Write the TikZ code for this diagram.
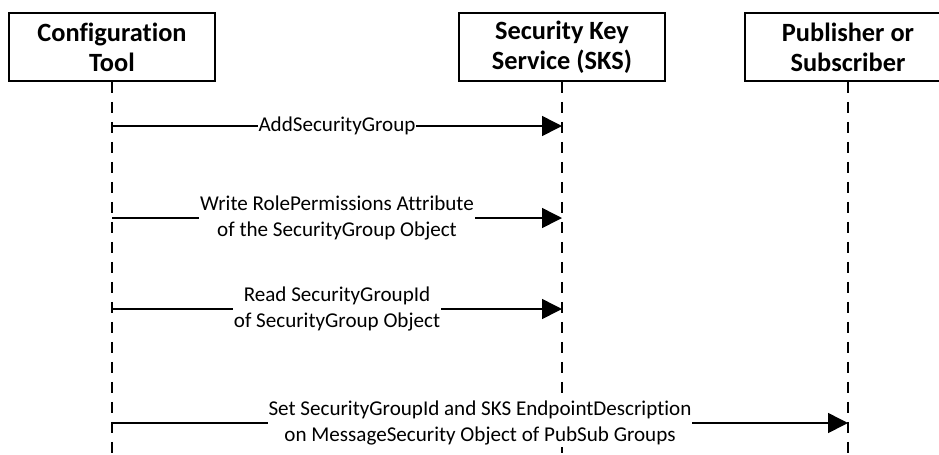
\documentclass[tikz,border=0pt]{standalone}
\usepackage{fontspec}
\setmainfont{Carlito}[Ligatures=NoCommon]
\usetikzlibrary{arrows.meta}

\begin{document}
\begin{tikzpicture}[
		blocos/.style={
			draw,
			rectangle,
			minimum width=4.12cm,
			minimum height=1.36cm,
			align=center,
			line width=1.1pt,
			font=\fontsize{15}{17}\selectfont\bfseries
		},
		vida/.style={
			line width=0.6pt,
			dash pattern=on 0.22cm off 0.18cm
		},
		msg/.style={
			-{Triangle[length=0.4cm, width=0.4cm]},
			line width=0.9pt
		},
		rotulo/.style={
			fill=white,
			align=center,
			inner xsep=0.5pt,
			inner ysep=1pt,
			font=\fontsize{12}{14.7}\selectfont
		}
		]
		
		\useasboundingbox (0,0) rectangle (18.78,-9.08);
		\clip (0,0) rectangle (18.78,-9.08);
		
		\node[blocos] (cfg) at (2.24,-0.94) {Configuration\\Tool};
		\node[blocos] (sks) at (11.24,-0.94) {Security Key\\Service (SKS)};
		\node[blocos] (pub) at (16.96,-0.94) {Publisher or\\Subscriber};
		
		%Linhas de vida
		\coordinate (cfgfim) at (2.24,-9.08);
		\coordinate (sksfim) at (11.24,-9.08);
		\coordinate (pubfim) at (16.96,-9.08);
		
		\draw[vida] (cfg.south) -- (cfgfim);
		\draw[vida] (sks.south) -- (sksfim);
		\draw[vida] (pub.south) -- (pubfim);
		
		%Mensagens
		\coordinate (m1a) at (2.24,-2.52);
		\coordinate (m1b) at (11.24,-2.52);
		\coordinate (m2a) at (2.24,-4.36);
		\coordinate (m2b) at (11.24,-4.36);
		\coordinate (m3a) at (2.24,-6.18);
		\coordinate (m3b) at (11.24,-6.18);
		\coordinate (m4a) at (2.24,-8.46);
		\coordinate (m4b) at (16.96,-8.46);
		
		\draw[msg] (m1a) -- node[rotulo] {AddSecurityGroup} (m1b);
		\draw[msg] (m2a) -- node[rotulo] {Write RolePermissions Attribute\\of the SecurityGroup Object} (m2b);
		\draw[msg] (m3a) -- node[rotulo] {Read SecurityGroupId\\of SecurityGroup Object} (m3b);
		\draw[msg] (m4a) -- node[rotulo] {Set SecurityGroupId and SKS EndpointDescription\\on MessageSecurity Object of PubSub Groups} (m4b);
		
	\end{tikzpicture}
\end{document}
